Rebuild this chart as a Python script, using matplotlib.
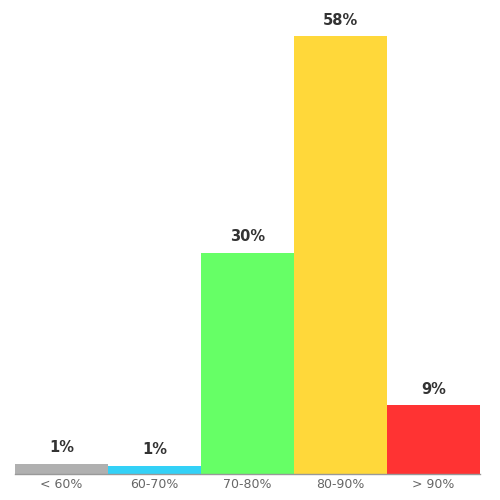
import matplotlib
matplotlib.use("Agg")
import matplotlib.pyplot as plt

categories = ["< 60%", "60-70%", "70-80%", "80-90%", "> 90%"]
values = [1.4, 1.1, 29.5, 58.4, 9.2]
colors = ["#b0b0b0", "#33d1f7", "#66ff66", "#ffd83a", "#ff3333"]

fig = plt.figure(figsize=(5, 5), dpi=100)
ax = fig.add_axes([0.03, 0.052, 0.93, 0.876])

x = range(len(categories))
ax.bar(x, values, width=1.0, color=colors)
ax.set_xlim(-0.5, len(categories) - 0.5)
ax.set_ylim(0, max(values))

for i, v in enumerate(values):
    ax.annotate("%d%%" % round(v), (i, v), xytext=(0, 6), textcoords="offset points",
                ha="center", va="bottom", fontsize=10.5, fontweight="bold", color="#333333")

ax.set_xticks(list(x))
ax.set_xticklabels(categories, fontsize=9, color="#666666")
ax.tick_params(axis="x", length=0, pad=3)
ax.set_yticks([])
for side in ["top", "right", "left"]:
    ax.spines[side].set_visible(False)
ax.spines["bottom"].set_color("#999999")
ax.spines["bottom"].set_linewidth(1)

fig.savefig("out.png", dpi=100)
